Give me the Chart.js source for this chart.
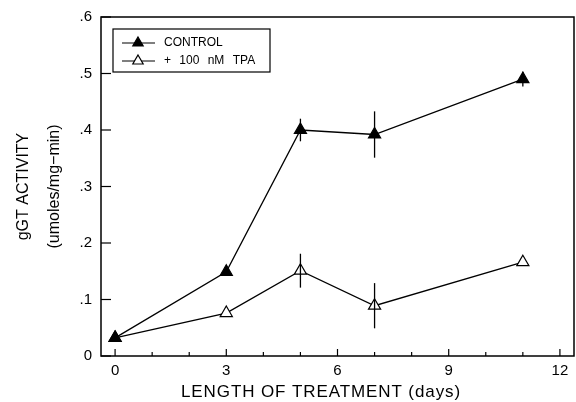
<!DOCTYPE html>
<html><head><meta charset="utf-8">
<script src="https://cdn.jsdelivr.net/npm/chart.js@4"></script>
<style>html,body{margin:0;padding:0;background:#fff}#wrap{width:576px;height:402px}</style>
</head><body><div id="wrap"><canvas id="c" width="576" height="402"></canvas></div>
<script>
// ---- data ----
const controlDays = [0, 3, 5, 7, 11];
const controlValues = [0.032, 0.149, 0.400, 0.392, 0.490];
const controlErrors = [0, 0, 0.020, 0.041, 0.013];
const tpaDays = [0, 3, 5, 7, 11];
const tpaValues = [0.032, 0.076, 0.151, 0.089, 0.166];
const tpaErrors = [0, 0, 0.030, 0.040, 0];
const xTickValues = [0, 3, 6, 9, 12];
const xTickLabels = ['0', '3', '6', '9', '12'];
const xMinorTicks = [1, 2, 4, 5, 7, 8, 10, 11];
const yTickValues = [0, 0.1, 0.2, 0.3, 0.4, 0.5, 0.6];
const yTickLabels = ['0', '.1', '.2', '.3', '.4', '.5', '.6'];
const seriesNames = ['CONTROL', '+ 100 nM TPA'];
const xTitle = 'LENGTH OF TREATMENT (days)';
const yTitle = ['gGT ACTIVITY', '(umoles/mg\u2212min)'];

const FONT = '"Liberation Sans", Arial, Helvetica, sans-serif';

const toPts = (xs, ys) => xs.map((x, i) => ({x: x, y: ys[i]}));

const decor = {
  id: 'decor',
  afterDatasetsDraw(chart) {
    const ctx = chart.ctx, xs = chart.scales.x, ys = chart.scales.y;
    ctx.save();
    ctx.strokeStyle = '#000';
    ctx.lineWidth = 1.3;
    const errSets = [[controlDays, controlValues, controlErrors], [tpaDays, tpaValues, tpaErrors]];
    errSets.forEach(([dx, vy, ey]) => {
      dx.forEach((d, i) => {
        if (!ey[i]) return;
        const px = xs.getPixelForValue(d);
        ctx.beginPath();
        ctx.moveTo(px, ys.getPixelForValue(vy[i] - ey[i]));
        ctx.lineTo(px, ys.getPixelForValue(vy[i] + ey[i]));
        ctx.stroke();
      });
    });
    ctx.restore();
  },
  afterDraw(chart) {
    const ctx = chart.ctx, a = chart.chartArea, xs = chart.scales.x, ys = chart.scales.y;
    ctx.save();
    ctx.strokeStyle = '#000';
    ctx.fillStyle = '#000';
    // frame
    ctx.lineWidth = 1.5;
    ctx.strokeRect(a.left, a.top, a.right - a.left, a.bottom - a.top);
    // y ticks (inward)
    ctx.lineWidth = 1.2;
    yTickValues.forEach(v => {
      const py = ys.getPixelForValue(v);
      ctx.beginPath(); ctx.moveTo(a.left, py); ctx.lineTo(a.left + 10, py); ctx.stroke();
    });
    // x ticks (inward)
    xTickValues.forEach(v => {
      const px = xs.getPixelForValue(v);
      ctx.beginPath(); ctx.moveTo(px, a.bottom); ctx.lineTo(px, a.bottom - 7); ctx.stroke();
    });
    xMinorTicks.forEach(v => {
      const px = xs.getPixelForValue(v);
      ctx.beginPath(); ctx.moveTo(px, a.bottom); ctx.lineTo(px, a.bottom - 4); ctx.stroke();
    });
    // x title
    ctx.font = '17px ' + FONT;
    ctx.textAlign = 'center';
    ctx.textBaseline = 'middle';
    if ('letterSpacing' in ctx) ctx.letterSpacing = '0.9px';
    ctx.fillText(xTitle, 321, 392);
    if ('letterSpacing' in ctx) ctx.letterSpacing = '0px';
    // y title
    ctx.save();
    ctx.translate(24, (a.top + a.bottom) / 2);
    ctx.rotate(-Math.PI / 2);
    ctx.font = '16px ' + FONT;
    ctx.textAlign = 'center';
    ctx.textBaseline = 'middle';
    ctx.fillText(yTitle[0], 0, 0);
    ctx.fillText(yTitle[1], 0, 31);
    ctx.restore();
    // legend
    const lx = a.left + 12, ly = a.top + 12, lw = 157, lh = 43;
    ctx.lineWidth = 1.2;
    ctx.strokeRect(lx, ly, lw, lh);
    ctx.font = '12px ' + FONT;
    ctx.textAlign = 'left';
    ctx.textBaseline = 'middle';
    if ('wordSpacing' in ctx) ctx.wordSpacing = '5px';
    const rows = [[ly + 14, '#000'], [ly + 32, '#fff']];
    rows.forEach(([ry, fill], i) => {
      ctx.lineWidth = 1.2;
      ctx.beginPath(); ctx.moveTo(lx + 9, ry); ctx.lineTo(lx + 42, ry); ctx.stroke();
      const r = 6, cx = lx + 25;
      ctx.beginPath();
      ctx.moveTo(cx, ry - r);
      ctx.lineTo(cx + r * 0.866, ry + r * 0.5);
      ctx.lineTo(cx - r * 0.866, ry + r * 0.5);
      ctx.closePath();
      ctx.fillStyle = fill; ctx.fill(); ctx.stroke();
      ctx.fillStyle = '#000';
      ctx.fillText(seriesNames[i], lx + 51, ry);
    });
    ctx.restore();
  }
};

new Chart(document.getElementById('c'), {
  type: 'line',
  data: {
    datasets: [
      {
        label: seriesNames[0], data: toPts(controlDays, controlValues),
        borderColor: '#000', borderWidth: 1.3, tension: 0,
        pointStyle: 'triangle', pointRadius: 7, pointHoverRadius: 7,
        pointBackgroundColor: '#000', pointBorderColor: '#000', pointBorderWidth: 1.2
      },
      {
        label: seriesNames[1], data: toPts(tpaDays, tpaValues),
        borderColor: '#000', borderWidth: 1.3, tension: 0,
        pointStyle: 'triangle', pointRadius: 7, pointHoverRadius: 7,
        pointBackgroundColor: '#fff', pointBorderColor: '#000', pointBorderWidth: 1.2
      }
    ]
  },
  options: {
    responsive: false, animation: false, devicePixelRatio: 1,
    layout: {autoPadding: false, padding: {top: 17, right: 2, left: 0, bottom: 0}},
    plugins: {legend: {display: false}, tooltip: {enabled: false}},
    scales: {
      x: {
        type: 'linear', min: -0.38, max: 12.38,
        grid: {display: false, drawTicks: false}, border: {display: false},
        afterBuildTicks: s => { s.ticks = xTickValues.map(v => ({value: v})); },
        afterFit: s => { s.height = 46; s.paddingRight = 0; s.paddingLeft = 0; },
        ticks: {
          color: '#000', font: {family: FONT, size: 15}, padding: 6, maxRotation: 0,
          callback: (v) => { const i = xTickValues.indexOf(v); return i >= 0 ? xTickLabels[i] : ''; }
        },
        title: {display: false}
      },
      y: {
        type: 'linear', min: 0, max: 0.6,
        grid: {display: false, drawTicks: false}, border: {display: false},
        afterBuildTicks: s => { s.ticks = yTickValues.map(v => ({value: v})); },
        afterFit: s => { s.width = 101; s.paddingTop = 0; s.paddingBottom = 0; },
        ticks: {
          color: '#000', font: {family: FONT, size: 15}, padding: 9,
          callback: (v) => { const i = yTickValues.findIndex(t => Math.abs(t - v) < 1e-9); return i >= 0 ? yTickLabels[i] : ''; }
        }
      }
    }
  },
  plugins: [decor]
});
</script>
</body></html>
